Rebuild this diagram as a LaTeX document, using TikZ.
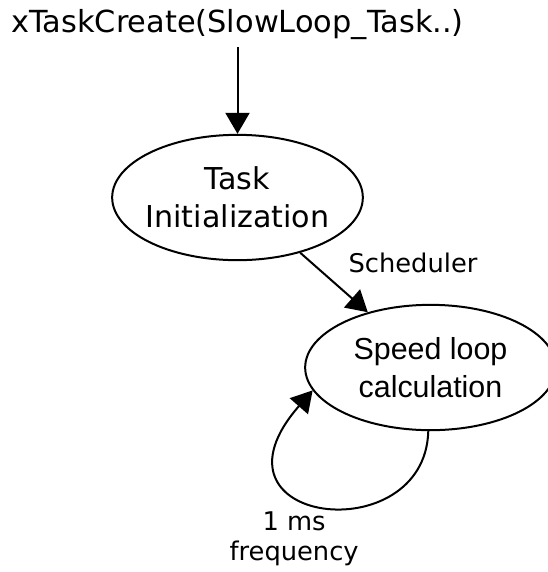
\documentclass[tikz,border=0pt]{standalone}
\usepackage{fontspec}
\setmainfont{DejaVu Sans}
\newfontfamily\liberation{Liberation Sans}
\usepackage{tikz}
\usetikzlibrary{shapes,arrows.meta}

\begin{document}
\begin{tikzpicture}[x=0.75pt, y=-0.75pt,
    state/.style={draw, ellipse, line width=1.5pt, inner xsep=-30pt, inner ysep=0pt,
      minimum width=188pt, minimum height=94pt, align=center},
    edge/.style={line width=1.5pt, -{Triangle[length=15.75pt, width=18pt]}},
    lbl/.style={font=\fontsize{19.3}{22.5}\selectfont, align=center}]
  % Sizes
  \pgfmathsetmacro{\fsize}{22.6}
  \useasboundingbox (0,0) rectangle (548,572);
  \clip (0,0) rectangle (548,572);

  % vertices
  \node[inner sep=5pt, font=\fontsize{22.8}{28.5}\selectfont] (a) at (237.5,25) {xTaskCreate(SlowLoop\_Task..)};
  \node[state, font=\fontsize{\fsize}{28.5}\selectfont] (b) at (237.5,197.5) {Task\\Initialization};
  \node[state, font=\liberation\fontsize{22.8}{28.5}\selectfont] (c) at (430.5,367.5) {Speed loop\\calculation};

  % draw diagram
  \draw[edge] (a) -- (b);
  \draw[edge] (b) -- node[lbl, shift={(79,-20)}] {Scheduler} (c);
  \draw[edge] (c.268) .. controls (425,552) and (195,525) .. node[lbl, pos=0.5, shift={(-31,32)}] {1 ms\\frequency} (c.191);
\end{tikzpicture}
\end{document}
